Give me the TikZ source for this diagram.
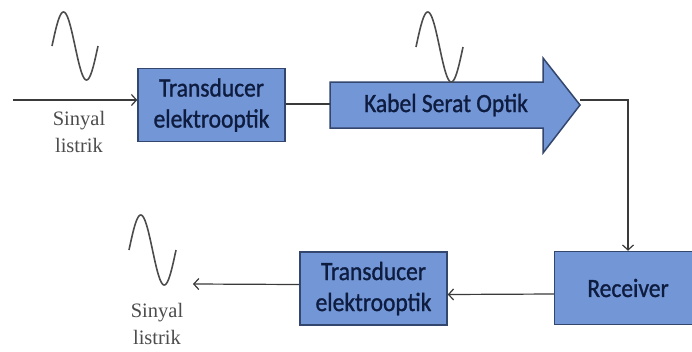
\documentclass[tikz,border=0pt]{standalone}
\usepackage{graphicx}
\usepackage{fontspec}
\setmainfont{Liberation Serif}
\newfontfamily\blockfont{Carlito}[FakeBold=1.2]
\usetikzlibrary{arrows.meta}
\definecolor{blockfill}{HTML}{7397D6}
\definecolor{blockline}{HTML}{33466E}
\definecolor{blocktext}{HTML}{0E1C40}
\definecolor{wirecol}{HTML}{3A3A3A}
\newcommand{\tallword}[1]{\scalebox{1}[1.12]{#1}}

\begin{document}
\begin{tikzpicture}[x=1pt,y=-1pt,
    block/.style={draw=blockline,line width=1.5pt,fill=blockfill,text=blocktext,
      font=\blockfont\fontsize{23.5}{31}\selectfont,align=center,inner sep=0pt,
      minimum width=147pt,minimum height=73pt},
    wire/.style={draw=wirecol,line width=1.2pt},
    feed/.style={wire,-{Straight Barb[length=5pt,width=11pt]}},
    wave/.style={draw=black!70,line width=1.6pt},
    siglabel/.style={font=\fontsize{20.5}{27}\selectfont,text=black!70,align=center}]
    \useasboundingbox[fill=white] (0,0) rectangle (692,351);
    % Blocks
    \node[block] (trans1) at (211.5,105) {\tallword{Transducer}\\\tallword{elektrooptik}};
    \node[block] (receiver) at (628,288) {\tallword{Receiver}};
    \node[block] (trans2) at (373.5,288.5) {\tallword{Transducer}\\\tallword{elektrooptik}};
    % Kabel
    \draw[draw=blockline,line width=1.5pt,fill=blockfill]
      (330,82) -- (543,82) -- (543,58) -- (580,105) -- (543,153) -- (543,128) -- (330,128) -- cycle;
    \node[text=blocktext,font=\blockfont\fontsize{23.5}{31}\selectfont] (kabel) at (446,105) {\tallword{Kabel Serat Optik}};
    \coordinate (kabeltail) at (330,104);
    \coordinate (kabeltip) at (580,100);
    % Waves
    \draw[wave] plot[domain=0:360,samples=60] ({52+\x/360*46},{46-34*sin(\x)});
    \draw[wave] plot[domain=0:360,samples=60] ({416+\x/360*47},{47-35*sin(\x)});
    \draw[wave] plot[domain=0:360,samples=60] ({129+\x/360*47},{250-35*sin(\x)});
    % Labels
    \node[siglabel] (sigin) at (79,132) {Sinyal\\listrik};
    \node[siglabel] (sigout) at (157,323.5) {Sinyal\\listrik};
    % Connectors
    \coordinate (in) at (13,100);
    \coordinate (out) at (193,284);
    \draw[feed] (in) -- (in -| trans1.west);
    \draw[wire] (trans1.east |- kabeltail) -- (kabeltail);
    \draw[feed] (kabeltip) -| (receiver.north);
    \draw[feed] ([yshift=-6pt]receiver.west) -- ([yshift=-6pt]trans2.east);
    \draw[feed] ([yshift=4pt]trans2.west) -- (out);
\end{tikzpicture}
\end{document}
